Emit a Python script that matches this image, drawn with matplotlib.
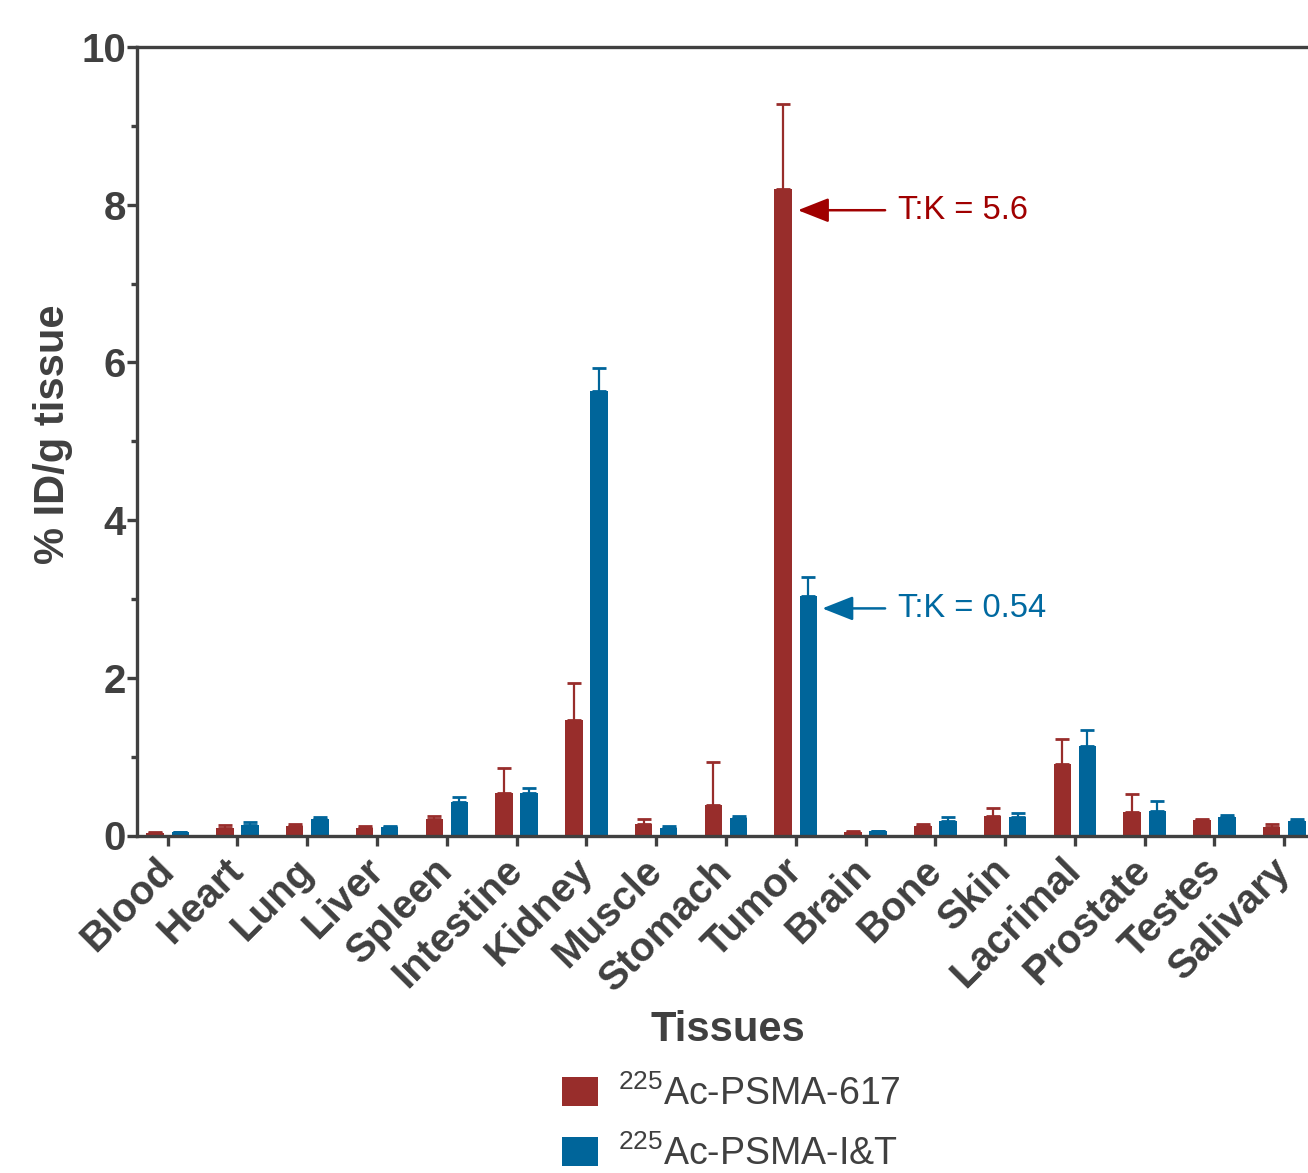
import numpy as np
import matplotlib
matplotlib.use("Agg")
import matplotlib.pyplot as plt
from matplotlib.patches import Patch

plt.rcParams['font.family'] = ['Liberation Sans', 'DejaVu Sans']
plt.rcParams['mathtext.fontset'] = 'custom'
plt.rcParams['mathtext.rm'] = 'Liberation Sans'

# =============================================================================
# data
# =============================================================================
tissues = ["Blood", "Heart", "Lung", "Liver", "Spleen", "Intestine", "Kidney",
           "Muscle", "Stomach", "Tumor", "Brain", "Bone", "Skin", "Lacrimal",
           "Prostate", "Testes", "Salivary"]

psma617 = [0.03, 0.10, 0.12, 0.10, 0.21, 0.54, 1.46, 0.15, 0.385, 8.20,
           0.05, 0.12, 0.25, 0.91, 0.30, 0.20, 0.11]
psma617_err = [0.01, 0.03, 0.03, 0.025, 0.04, 0.31, 0.48, 0.06, 0.545, 1.08,
               0.005, 0.02, 0.10, 0.32, 0.22, 0.01, 0.04]

psmaIT = [0.04, 0.135, 0.215, 0.105, 0.42, 0.54, 5.64, 0.10, 0.22, 3.04,
          0.055, 0.19, 0.24, 1.13, 0.31, 0.24, 0.19]
psmaIT_err = [0.01, 0.03, 0.02, 0.02, 0.065, 0.06, 0.29, 0.02, 0.03, 0.24,
              0.005, 0.04, 0.04, 0.21, 0.13, 0.02, 0.02]

ratio_617 = "T:K = 5.6"
ratio_IT = "T:K = 0.54"

RED = '#982d2b'
BLUE = '#00659a'
GREY = '#404040'

# =============================================================================
fig = plt.figure(figsize=(13.08, 11.73), dpi=100)
ax = fig.add_axes([137/1308., 1-835.5/1173., 1-137/1308., (835.5-47)/1173.])

x = np.arange(len(tissues))
off = 0.18
w = 0.25
ax.bar(x - off, psma617, w, color=RED, zorder=2)
ax.bar(x + off, psmaIT, w, color=BLUE, zorder=2)
ax.errorbar(x - off, psma617, yerr=[np.zeros(len(x)), psma617_err], fmt='none',
            ecolor=RED, elinewidth=1.6, capsize=5, capthick=2, zorder=1)
ax.errorbar(x + off, psmaIT, yerr=[np.zeros(len(x)), psmaIT_err], fmt='none',
            ecolor=BLUE, elinewidth=1.6, capsize=5, capthick=2, zorder=1)

ax.set_xlim(-0.44, 16.34)
ax.set_ylim(0, 10)
ax.set_yticks([0, 2, 4, 6, 8, 10])
ax.set_yticks([1, 3, 5, 7, 9], minor=True)
ax.set_xticks(x)
ax.set_xticklabels(tissues, rotation=45, ha='right', va='center',
                   rotation_mode='anchor', fontsize=29, fontweight='bold', color=GREY)
for lab in ax.get_yticklabels():
    lab.set_fontsize(29)
    lab.set_fontweight('bold')
    lab.set_color(GREY)

for s in ['left', 'bottom', 'top']:
    ax.spines[s].set_linewidth(2.4)
    ax.spines[s].set_color(GREY)
ax.spines['right'].set_visible(False)
ax.tick_params(axis='y', which='major', length=7, width=2.4, color=GREY, pad=1)
ax.tick_params(axis='y', which='minor', length=4, width=2.4, color=GREY)
ax.tick_params(axis='x', which='major', length=7, width=2.4, color=GREY, pad=14)

# annotations
ax.annotate("", xy=(9.03, 7.93), xytext=(10.28, 7.93),
            arrowprops=dict(arrowstyle='-|>,head_length=1.9,head_width=0.75',
                            color='#a00000', lw=1.8, shrinkA=0, shrinkB=0))
ax.text(10.46, 7.93, ratio_617, color='#a00000', fontsize=23.5, va='center', ha='left')
ax.annotate("", xy=(9.38, 2.88), xytext=(10.28, 2.88),
            arrowprops=dict(arrowstyle='-|>,head_length=1.9,head_width=0.75',
                            color='#0069a0', lw=1.8, shrinkA=0, shrinkB=0))
ax.text(10.46, 2.88, ratio_IT, color='#0069a0', fontsize=23.5, va='center', ha='left')

fig.text(53/1308., 1-434/1173., "% ID/g tissue", rotation=90, ha='center', va='center',
         fontsize=30, fontweight='bold', color=GREY)
fig.text(728/1308., 1-1030/1173., "Tissues", ha='center', va='center',
         fontsize=30, fontweight='bold', color=GREY)

handles = [Patch(facecolor=RED), Patch(facecolor=BLUE)]
labels = [r'$^{225}$Ac-PSMA-617', r'$^{225}$Ac-PSMA-I&T']
leg = fig.legend(handles, labels, loc='upper left', bbox_to_anchor=(562/1308., 1-1075/1173.),
                 frameon=False, fontsize=27, handlelength=0.95, handleheight=0.8,
                 handletextpad=0.55, labelspacing=0.6, borderpad=0, borderaxespad=0)
for t in leg.get_texts():
    t.set_color(GREY)

fig.savefig("out.png", dpi=100)
